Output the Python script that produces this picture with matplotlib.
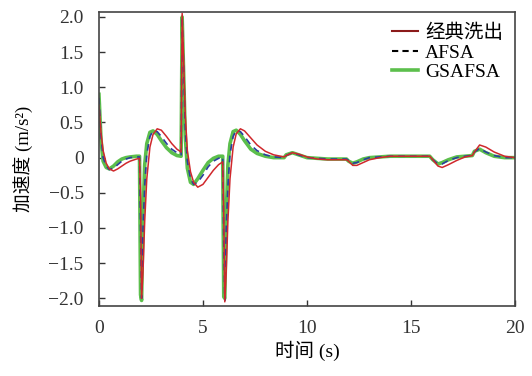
import matplotlib
matplotlib.use('Agg')
import matplotlib.pyplot as plt
from matplotlib.lines import Line2D
from matplotlib.ticker import FuncFormatter

plt.rcParams['font.family'] = ['Liberation Serif', 'Noto Sans CJK SC']

# 时间点 (s)
t = [0.0, 0.1, 0.2, 0.35, 0.5, 0.7, 0.9, 1.1, 1.3, 1.5, 1.8, 1.95,
     2.0, 2.05, 2.12, 2.2, 2.3, 2.45, 2.6, 2.8, 3.0, 3.25, 3.5, 3.75, 3.95,
     4.0, 4.08, 4.15, 4.25, 4.4, 4.55, 4.75, 5.0, 5.25, 5.5, 5.75, 5.95,
     6.0, 6.05, 6.12, 6.2, 6.3, 6.45, 6.6, 6.8, 7.0, 7.3, 7.6, 8.0, 8.4, 8.9,
     9.0, 9.3, 9.6, 10.0, 10.5, 11.0, 11.9, 12.0, 12.2, 12.4, 12.7, 13.0,
     13.5, 14.0, 15.0, 15.9, 16.05, 16.3, 16.5, 16.8, 17.2, 17.6, 17.95,
     18.05, 18.3, 18.6, 19.0, 19.5, 20.0]

# 经典洗出
classic = [0.75, 0.35, 0.1, -0.08, -0.16, -0.19, -0.16, -0.12, -0.08, -0.05, -0.02, -0.01,
           -0.5, -2.0, -1.6, -0.9, -0.3, 0.15, 0.33, 0.41, 0.39, 0.3, 0.2, 0.12, 0.08,
           2.05, 1.3, 0.6, 0.1, -0.2, -0.35, -0.42, -0.38, -0.28, -0.18, -0.1, -0.06,
           -0.8, -2.05, -1.6, -0.9, -0.3, 0.15, 0.34, 0.41, 0.38, 0.28, 0.18, 0.09, 0.04, 0.01,
           0.03, 0.07, 0.05, 0.01, -0.02, -0.03, -0.03, -0.05, -0.11, -0.11, -0.07, -0.03,
           0.0, 0.02, 0.02, 0.02, -0.03, -0.12, -0.14, -0.1, -0.04, 0.01, 0.03,
           0.08, 0.18, 0.15, 0.08, 0.02, 0.0]

# AFSA
afsa = [0.85, 0.3, 0.0, -0.12, -0.17, -0.15, -0.1, -0.05, -0.02, 0.0, 0.01, 0.01,
        -1.0, -2.0, -1.0, -0.4, 0.05, 0.3, 0.38, 0.37, 0.3, 0.2, 0.12, 0.07, 0.04,
        2.0, 1.2, 0.4, -0.05, -0.3, -0.38, -0.35, -0.25, -0.13, -0.05, -0.01, 0.01,
        -1.2, -2.03, -1.0, -0.4, 0.05, 0.3, 0.39, 0.37, 0.3, 0.18, 0.1, 0.04, 0.01, 0.0,
        0.03, 0.07, 0.04, 0.0, -0.01, -0.02, -0.02, -0.04, -0.08, -0.07, -0.03, 0.0,
        0.01, 0.02, 0.02, 0.02, -0.03, -0.09, -0.09, -0.04, 0.0, 0.02, 0.03,
        0.08, 0.13, 0.08, 0.03, 0.0, 0.0]

# GSAFSA
gsafsa = [0.9, 0.25, -0.05, -0.14, -0.16, -0.12, -0.06, -0.02, 0.0, 0.01, 0.02, 0.02,
          -1.95, -2.03, -0.8, -0.1, 0.2, 0.36, 0.38, 0.33, 0.24, 0.14, 0.07, 0.03, 0.02,
          2.0, 1.1, 0.3, -0.15, -0.35, -0.38, -0.3, -0.18, -0.07, -0.01, 0.02, 0.02,
          -1.98, -2.0, -0.8, -0.1, 0.2, 0.37, 0.39, 0.33, 0.24, 0.12, 0.06, 0.02, 0.0, 0.0,
          0.04, 0.07, 0.04, 0.0, -0.01, -0.02, -0.02, -0.05, -0.08, -0.06, -0.02, 0.0,
          0.01, 0.02, 0.02, 0.02, -0.03, -0.09, -0.07, -0.03, 0.01, 0.02, 0.03,
          0.09, 0.12, 0.07, 0.02, 0.0, 0.0]

labels = ['经典洗出', 'AFSA', 'GSAFSA']
xticks = [0, 5, 10, 15, 20]
yticks = [-2.0, -1.5, -1.0, -0.5, 0, 0.5, 1.0, 1.5, 2.0]

fig = plt.figure(figsize=(5.32, 3.76), dpi=100)
ax = fig.add_axes([0.186, 0.186, 0.782, 0.782])

ax.plot(t, gsafsa, color='#5cbf4c', lw=2.6)
ax.plot(t, afsa, color='#2a3f9e', lw=1.2, ls=(0, (4, 3)))
ax.plot(t, classic, color='#d0282c', lw=1.1)

ax.set_xlim(0, 19.85)
ax.set_ylim(-2.11, 2.07)
ax.set_xticks(xticks)
ax.set_yticks(yticks)


def fmt(v, pos):
    if abs(v) < 1e-9:
        return '0'
    return ('%.1f' % v).replace('-', '\u2212')


ax.yaxis.set_major_formatter(FuncFormatter(fmt))
ax.tick_params(direction='in', length=4, width=1, labelsize=14, colors='#333333')
ax.tick_params(axis='x', pad=10)
ax.tick_params(axis='y', pad=11)
for s in ax.spines.values():
    s.set_color('#444444')
    s.set_linewidth(1.2)

ax.set_xlabel('时间 (s)', fontsize=14, labelpad=3)
ax.set_ylabel('加速度 (m/s²)', fontsize=13.5, labelpad=10)

handles = [Line2D([], [], color='#8b1a1a', lw=1.5),
           Line2D([], [], color='black', lw=1.5, ls=(0, (3, 2))),
           Line2D([], [], color='#5cbf4c', lw=2.6)]
ax.legend(handles, labels, loc='upper right', frameon=False, fontsize=14,
          handlelength=1.3, handletextpad=0.4, labelspacing=0.1,
          borderaxespad=0.4, borderpad=0.2)

plt.savefig('out.png', dpi=100)
